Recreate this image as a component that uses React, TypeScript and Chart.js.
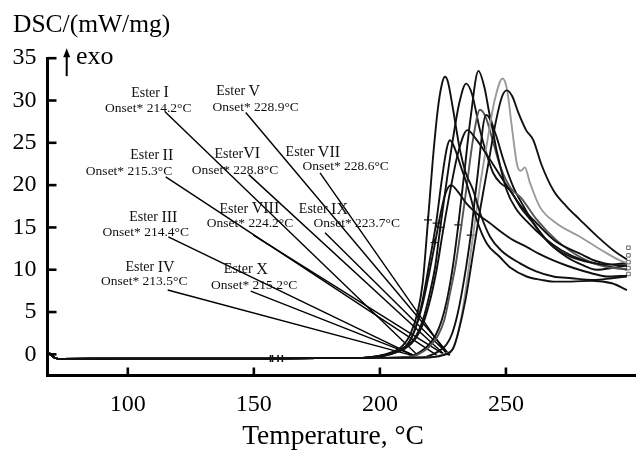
import React, { useEffect, useRef } from 'react';
import { Chart, registerables } from 'chart.js';

Chart.register(...registerables);

// ---------- axes ----------
const xMin = 68.14;
const xMax = 301.6;
const yMin = -2.5;
const yMax = 35;
const xTickValues = [100, 150, 200, 250];
const yTickValues = [0, 5, 10, 15, 20, 25, 30, 35];

// ---------- shared baseline (all curves overlap here) ----------
const baseT = [68.3, 69.2, 71, 74, 100, 130, 155, 175, 190];
const baseY = [0.15, 0.05, -0.4, -0.55, -0.5, -0.5, -0.5, -0.45, -0.45];

// ---------- DSC curves (temperature / signal) ----------
const esterIT = [196, 203, 208, 211, 214, 217, 220, 222.3, 224.5, 226.5, 227.8, 229.5, 232, 234.4, 236.5, 238.4, 242.4, 247.6, 252, 258.2, 264, 268.8, 276, 284, 292, 298];
const esterIY = [-0.35, 0, 0.5, 1.2, 3, 6.5, 11.5, 15.5, 20.5, 24.3, 25.3, 24.5, 22.3, 20.2, 18, 15.9, 13.1, 11.5, 10.2, 9.2, 8.8, 8.6, 8.6, 8.7, 8.4, 7.6];

const esterIIT = [198, 205, 210, 214, 217, 220, 222.5, 225, 228, 231, 234.7, 238, 243.7, 248, 251.6, 256, 263.5, 270, 279.4, 286, 292, 298];
const esterIIY = [-0.35, 0.1, 0.7, 1.8, 3.5, 6.5, 10, 14.5, 19.5, 23.8, 26.5, 25.5, 23, 21, 19.4, 17.5, 15.1, 13.3, 11.9, 11, 10.6, 10.5];

const esterIIIT = [196, 203, 208, 211, 214, 217, 219.5, 221.9, 224, 226, 228.2, 231, 234.4, 239, 243.7, 248, 252.9, 258.2, 263, 268.8, 274, 279.4, 285, 290, 298];
const esterIIIY = [-0.35, 0, 0.5, 1.2, 3, 6, 9.5, 13.2, 16.5, 19, 20, 19.2, 17.8, 16.5, 15.5, 14.5, 13.5, 12.7, 11.9, 11.1, 10.5, 9.97, 9.5, 9.2, 9.3];

const esterIVT = [196, 202, 206, 209, 212, 215, 217, 219.1, 221, 223, 224.5, 225.8, 227, 229, 231.8, 234, 237, 240, 243.7, 248, 255.6, 262, 268.8, 276, 284.7, 292, 298];
const esterIVY = [-0.35, 0, 0.4, 1.0, 2.3, 5, 8.5, 15.9, 23, 29, 31.8, 32.8, 32.2, 29, 24.1, 21.5, 19.4, 16.5, 13.9, 12.3, 10.75, 9.8, 9.2, 9.0, 8.8, 9.0, 9.2];

const esterVT = [212, 220, 226, 228.9, 231, 234, 237, 240, 243, 246, 248.5, 250.3, 252.5, 255, 258, 260.9, 264, 268.8, 274, 279.4, 286, 292.6, 298];
const esterVY = [-0.4, -0.35, 0, 0.6, 2.5, 6.5, 12, 17.5, 22.5, 27.5, 30.5, 31.2, 30.5, 28.5, 26.5, 25.3, 22.5, 19.4, 17.5, 15.9, 14, 12.3, 11.2];

const esterVIT = [212, 220, 225, 228.8, 231, 233.5, 236.5, 239.5, 242.5, 245.5, 248.7, 250.5, 252.3, 254.5, 256, 257.5, 259.5, 263.5, 270, 279.4, 288, 295.2, 298];
const esterVIY = [-0.4, -0.35, 0, 0.6, 2.5, 6.5, 13, 19.5, 25, 30, 32.6, 31.2, 27, 22.3, 21.7, 22.1, 20.3, 17.4, 15.5, 13.9, 12.3, 11.1, 10.8];

const esterVIIT = [210, 217, 221, 224, 226.5, 228.6, 231, 233.5, 236, 238.5, 242.1, 244, 246.3, 250.3, 254, 259, 265, 272, 280, 290, 298];
const esterVIIY = [-0.4, -0.35, 0, 0.5, 1.2, 2.4, 5, 9, 14, 20.5, 28.3, 27.5, 24.1, 19.4, 17.2, 15.5, 13.8, 12.3, 11.2, 10.6, 10.8];

const esterVIIIT = [206, 213, 217, 220, 223, 225.5, 228, 230, 232, 234.5, 237, 239.7, 242, 245, 248, 252, 256, 262, 270, 280, 290, 298];
const esterVIIIY = [-0.4, -0.25, 0.3, 1.0, 2.2, 4, 7.5, 10.5, 14.5, 20, 25.5, 28.9, 28, 25, 22, 19.6, 18.5, 16, 13.5, 11.4, 10.3, 10.1];

const esterIXT = [205, 212, 216, 219, 222, 224.5, 227, 229, 231.1, 233.5, 236, 239.1, 241.5, 243.7, 246.5, 249, 252.9, 257, 262, 268.8, 276, 286, 292, 298];
const esterIXY = [-0.4, -0.25, 0.3, 1.0, 2.2, 4, 7, 10.5, 15.3, 21.5, 28, 33.5, 31.5, 28.1, 25.5, 23, 19.8, 17.5, 15, 12.7, 11.5, 10.7, 10.3, 10];

const esterXT = [198, 205, 210, 214, 217, 220, 222, 224, 226.5, 229, 231.5, 234.2, 236.5, 239.7, 242.5, 245, 248, 251.6, 256, 260.9, 267, 274.1, 280, 286, 292, 298];
const esterXY = [-0.35, 0.1, 0.8, 2, 4, 7.5, 10.5, 15.1, 20.5, 25.5, 29.7, 32, 30.8, 26.5, 23.5, 21.4, 20.2, 19.4, 17.3, 15.5, 13.2, 11.5, 10.6, 10, 10.2, 10.5];

// ---------- markers ----------
const peakMarkT = [219.1, 222.5, 224.1, 221.7, 231.1, 236.0];
const peakMarkY = [15.9, 15.5, 15.0, 13.2, 15.3, 14.1];
const baseMarkT = [156.6, 157.4, 159.6, 161.3];
const baseMarkY = [-0.5, -0.5, -0.5, -0.5];
const endMarkT = [298.6, 298.6, 298.6, 298.6, 298.6];
const endMarkY = [12.6, 11.7, 10.9, 10.2, 9.5];

// ---------- annotations (order: I..X) ----------
const esterNames = ['Ester I', 'Ester II', 'Ester III', 'Ester IV', 'Ester V', 'EsterVI', 'Ester VII', 'Ester VIII', 'Ester IX', 'Ester X'];
const onsetTexts = ['Onset* 214.2°C', 'Onset* 215.3°C', 'Onset* 214.4°C', 'Onset* 213.5°C', 'Onset* 228.9°C', 'Onset* 228.8°C', 'Onset* 228.6°C', 'Onset* 224.2°C', 'Onset* 223.7°C', 'Onset* 215.2°C'];
const nameT = [108.8, 109.5, 110.1, 108.8, 143.8, 143.4, 173.4, 148.2, 177.6, 146.8];
const nameY = [31.02, 23.66, 16.34, 10.43, 31.22, 23.82, 24.02, 17.32, 17.25, 10.16];
const onsetLblT = [108.1, 100.5, 107.1, 106.5, 150.7, 142.5, 186.4, 148.5, 190.8, 150.1];
const onsetLblY = [29.25, 21.77, 14.6, 8.78, 29.33, 21.85, 22.36, 15.59, 15.59, 8.27];
const lineStartT = [114.76, 115.04, 116.07, 115.83, 146.77, 148.0, 176.25, 149.79, 178.23, 148.76];
const lineStartY = [28.66, 20.98, 13.89, 7.6, 28.59, 21.24, 21.45, 14.09, 14.36, 7.48];
const lineEndT = [215.0, 222.5, 213.2, 212.4, 227.8, 225.9, 226.8, 225.9, 227.4, 213.3];
const lineEndY = [-0.1, -0.1, -0.1, -0.1, -0.1, -0.1, -0.1, -0.1, -0.1, -0.1];

const curveT = [esterIT, esterIIT, esterIIIT, esterIVT, esterVT, esterVIT, esterVIIT, esterVIIIT, esterIXT, esterXT];
const curveY = [esterIY, esterIIY, esterIIIY, esterIVY, esterVY, esterVIY, esterVIIY, esterVIIIY, esterIXY, esterXY];
const curveColors = ['#111', '#111', '#111', '#111', '#111', '#9a9a9a', '#111', '#555', '#111', '#111'];

const SERIF = '"Liberation Serif", "DejaVu Serif", serif';

const zip = (t: number[], y: number[]) => t.map((v, i) => ({ x: v, y: y[i] }));

const decorPlugin = {
  id: 'decor',
  afterDraw(chart: any) {
    const { ctx, chartArea } = chart;
    const xs = chart.scales.x;
    const ys = chart.scales.y;
    ctx.save();
    // inward tick marks
    ctx.strokeStyle = '#000';
    ctx.lineWidth = 2.6;
    xTickValues.forEach((v) => {
      const px = xs.getPixelForValue(v);
      ctx.beginPath();
      ctx.moveTo(px, chartArea.bottom);
      ctx.lineTo(px, chartArea.bottom - 8);
      ctx.stroke();
    });
    yTickValues.forEach((v) => {
      const py = ys.getPixelForValue(v);
      ctx.beginPath();
      ctx.moveTo(chartArea.left, py);
      ctx.lineTo(chartArea.left + 9, py);
      ctx.stroke();
    });
    // exo arrow
    const ax = xs.getPixelForValue(75.76);
    const ayTop = ys.getPixelForValue(36.18);
    const ayBot = ys.getPixelForValue(32.88);
    ctx.lineWidth = 2;
    ctx.beginPath();
    ctx.moveTo(ax, ayBot);
    ctx.lineTo(ax, ayTop + 6);
    ctx.stroke();
    ctx.fillStyle = '#000';
    ctx.beginPath();
    ctx.moveTo(ax, ayTop);
    ctx.lineTo(ax - 3.5, ayTop + 9);
    ctx.lineTo(ax + 3.5, ayTop + 9);
    ctx.closePath();
    ctx.fill();
    ctx.font = `26px ${SERIF}`;
    ctx.textAlign = 'left';
    ctx.textBaseline = 'alphabetic';
    ctx.fillText('exo', xs.getPixelForValue(79.4), ys.getPixelForValue(35.12) + 6.5);
    // axis titles
    ctx.font = `25.5px ${SERIF}`;
    ctx.fillText('DSC/(mW/mg)', 13, 32);
    ctx.font = `27.5px ${SERIF}`;
    ctx.textAlign = 'center';
    ctx.fillText('Temperature, °C', xs.getPixelForValue(181.4), 443.5);
    // annotation labels
    ctx.fillStyle = '#111';
    esterNames.forEach((name, i) => {
      const cx = xs.getPixelForValue(nameT[i]);
      const cy = ys.getPixelForValue(nameY[i]);
      const prefix = 'Ester';
      const rest = name.slice(prefix.length);
      const gap = rest.startsWith(' ') ? ' ' : '';
      const numeral = rest.trim();
      ctx.font = `14px ${SERIF}`;
      const w1 = ctx.measureText(prefix + gap).width;
      ctx.font = `16px ${SERIF}`;
      const w2 = ctx.measureText(numeral).width;
      const x0 = cx - (w1 + w2) / 2;
      ctx.textAlign = 'left';
      ctx.textBaseline = 'alphabetic';
      ctx.font = `14px ${SERIF}`;
      ctx.fillText(prefix + gap, x0, cy + 5);
      ctx.font = `16px ${SERIF}`;
      ctx.fillText(numeral, x0 + w1, cy + 5.5);
      ctx.font = `13.5px ${SERIF}`;
      ctx.textAlign = 'center';
      ctx.fillText(onsetTexts[i], xs.getPixelForValue(onsetLblT[i]), ys.getPixelForValue(onsetLblY[i]) + 5);
    });
    ctx.restore();
  },
};

export default function App() {
  const ref = useRef<HTMLCanvasElement | null>(null);
  useEffect(() => {
    if (!ref.current) return;
    const datasets: any[] = [];
    curveT.forEach((t, i) => {
      datasets.push({
        data: zip(baseT.concat(t), baseY.concat(curveY[i])),
        borderColor: curveColors[i],
        borderWidth: 1.9,
        pointRadius: 0,
        cubicInterpolationMode: 'monotone',
        fill: false,
      });
    });
    esterNames.forEach((_, i) => {
      datasets.push({
        data: [
          { x: lineStartT[i], y: lineStartY[i] },
          { x: lineEndT[i], y: lineEndY[i] },
        ],
        borderColor: '#000',
        borderWidth: 1.4,
        pointRadius: 0,
        tension: 0,
      });
    });
    datasets.push({
      data: zip(peakMarkT, peakMarkY),
      showLine: false,
      pointStyle: 'cross',
      pointRadius: 4,
      borderColor: '#222',
      borderWidth: 1.2,
    });
    datasets.push({
      data: zip(baseMarkT, baseMarkY),
      showLine: false,
      pointStyle: 'cross',
      pointRadius: 3.5,
      borderColor: '#111',
      borderWidth: 1.6,
    });
    datasets.push({
      data: zip(endMarkT, endMarkY),
      showLine: false,
      pointStyle: 'rect',
      pointRadius: 2.5,
      borderColor: '#666',
      backgroundColor: 'rgba(0,0,0,0)',
      borderWidth: 1,
    });

    const chart = new Chart(ref.current, {
      type: 'line',
      data: { datasets },
      options: {
        animation: false,
        responsive: true,
        maintainAspectRatio: false,
        layout: { autoPadding: false, padding: { top: 58.2, right: 0, bottom: 0, left: 0 } },
        plugins: { legend: { display: false }, tooltip: { enabled: false }, title: { display: false } },
        scales: {
          x: {
            type: 'linear',
            min: xMin,
            max: xMax,
            afterBuildTicks: (s: any) => { s.ticks = xTickValues.map((v) => ({ value: v })); },
            afterFit: (s: any) => { s.height = 76.5; },
            grid: { display: false, drawTicks: false },
            border: { display: true, color: '#000', width: 3 },
            ticks: { color: '#000', padding: 14.5, maxRotation: 0, font: { family: SERIF, size: 24 } },
          },
          y: {
            type: 'linear',
            min: yMin,
            max: yMax,
            afterBuildTicks: (s: any) => { s.ticks = yTickValues.map((v) => ({ value: v })); },
            afterFit: (s: any) => { s.width = 47.5; },
            grid: { display: false, drawTicks: false },
            border: { display: true, color: '#000', width: 3 },
            ticks: { color: '#000', padding: 11, font: { family: SERIF, size: 24 } },
          },
        },
      },
      plugins: [decorPlugin],
    });
    return () => chart.destroy();
  }, []);
  return (
    <div style={{ position: 'absolute', left: 0, top: 0, width: 636, height: 452, background: '#fff' }}>
      <canvas ref={ref} />
    </div>
  );
}
